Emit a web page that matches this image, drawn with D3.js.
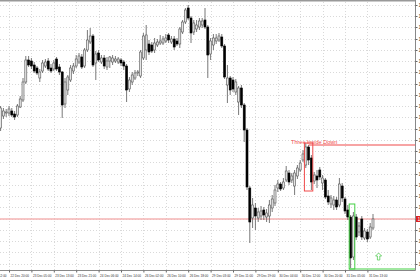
<!DOCTYPE html>
<html>
    <head>
        <meta charset="utf-8">
        <title>Three Inside Down</title>
        <style>
            html, body { margin: 0; padding: 0; background: #fff; overflow: hidden; }
            svg { display: block; font-family: "Liberation Sans", Arial, sans-serif; }
        </style>
        <script src="https://d3js.org/d3.v7.min.js"></script>
    </head>
    <body>
        <svg></svg>
        <script>
            // H1 bars, first bar index is -3 (bar 0 = 22 Dec 20:00)
            const firstBar = -3;

            const opens = [
                1.2172,1.2184,1.2187,1.2187,1.2189,1.2186,1.2185,1.2193,1.2200,1.2218,
                1.2240,1.2239,1.2235,1.2232,1.2222,1.2229,1.2234,1.2239,1.2232,1.2231,
                1.2241,1.2233,1.2228,1.2196,1.2210,1.2220,1.2229,1.2234,1.2238,1.2243,
                1.2234,1.2250,1.2258,1.2264,1.2237,1.2247,1.2238,1.2242,1.2233,1.2239,
                1.2238,1.2239,1.2238,1.2240,1.2238,1.2234,1.2211,1.2218,1.2222,1.2227,
                1.2224,1.2242,1.2250,1.2256,1.2255,1.2250,1.2255,1.2257,1.2257,1.2259,
                1.2265,1.2258,1.2261,1.2259,1.2256,1.2268,1.2278,1.2292,1.2282,1.2268,
                1.2271,1.2273,1.2275,1.2280,1.2273,1.2246,1.2255,1.2259,1.2260,1.2263,
                1.2254,1.2215,1.2222,1.2220,1.2208,1.2198,1.2212,1.2195,1.2170,1.2112,
                1.2082,1.2092,1.2082,1.2084,1.2090,1.2083,1.2084,1.2092,1.2097,1.2112,
                1.2116,1.2112,1.2120,1.2127,1.2120,1.2114,1.2124,1.2130,1.2140,1.2135,
                1.2153,1.2142,1.2119,1.2124,1.2130,1.2117,1.2120,1.2104,1.2096,1.2095,
                1.2100,1.2095,1.2114,1.2101,1.2090,1.2083,1.2043,1.2083,1.2068,1.2081,
                1.2062,1.2068,1.2063,1.2072
            ];
            const highs = [
                1.2194,1.2192,1.2191,1.2194,1.2192,1.2189,1.2196,1.2204,1.2222,1.2244,
                1.2244,1.2242,1.2238,1.2234,1.2231,1.2240,1.2241,1.2242,1.2236,1.2240,
                1.2243,1.2236,1.2229,1.2222,1.2225,1.2235,1.2237,1.2245,1.2247,1.2246,
                1.2252,1.2270,1.2272,1.2266,1.2249,1.2250,1.2245,1.2245,1.2243,1.2244,
                1.2245,1.2244,1.2243,1.2242,1.2240,1.2236,1.2223,1.2228,1.2230,1.2230,
                1.2250,1.2267,1.2275,1.2260,1.2258,1.2262,1.2261,1.2265,1.2264,1.2266,
                1.2267,1.2264,1.2264,1.2262,1.2273,1.2280,1.2292,1.2295,1.2284,1.2280,
                1.2280,1.2282,1.2282,1.2292,1.2275,1.2262,1.2266,1.2266,1.2267,1.2266,
                1.2256,1.2235,1.2224,1.2223,1.2221,1.2214,1.2215,1.2197,1.2172,1.2114,
                1.2102,1.2097,1.2092,1.2094,1.2093,1.2091,1.2100,1.2105,1.2115,1.2120,
                1.2118,1.2122,1.2134,1.2130,1.2127,1.2130,1.2135,1.2140,1.2150,1.2157,
                1.2155,1.2145,1.2128,1.2130,1.2133,1.2125,1.2122,1.2110,1.2105,1.2104,
                1.2103,1.2122,1.2117,1.2103,1.2095,1.2085,1.2088,1.2086,1.2078,1.2084,
                1.2072,1.2071,1.2077,1.2086
            ];
            const lows = [
                1.2169,1.2181,1.2183,1.2184,1.2183,1.2180,1.2183,1.2192,1.2198,1.2216,
                1.2233,1.2231,1.2227,1.2225,1.2218,1.2227,1.2232,1.2229,1.2227,1.2229,
                1.2229,1.2225,1.2182,1.2192,1.2205,1.2218,1.2226,1.2232,1.2236,1.2231,
                1.2232,1.2248,1.2256,1.2233,1.2220,1.2238,1.2236,1.2231,1.2230,1.2232,
                1.2235,1.2237,1.2236,1.2234,1.2230,1.2198,1.2208,1.2215,1.2220,1.2224,
                1.2222,1.2240,1.2240,1.2245,1.2247,1.2247,1.2253,1.2255,1.2255,1.2257,
                1.2257,1.2256,1.2250,1.2254,1.2252,1.2266,1.2276,1.2280,1.2257,1.2265,
                1.2268,1.2270,1.2272,1.2271,1.2222,1.2240,1.2250,1.2256,1.2258,1.2252,
                1.2221,1.2197,1.2205,1.2208,1.2205,1.2185,1.2192,1.2158,1.2110,1.2057,
                1.2072,1.2070,1.2078,1.2080,1.2080,1.2078,1.2077,1.2088,1.2094,1.2108,
                1.2109,1.2110,1.2118,1.2115,1.2117,1.2105,1.2121,1.2128,1.2138,1.2132,
                1.2135,1.2110,1.2116,1.2112,1.2120,1.2110,1.2101,1.2095,1.2092,1.2090,
                1.2090,1.2093,1.2098,1.2086,1.2080,1.2032,1.2040,1.2060,1.2064,1.2060,
                1.2060,1.2058,1.2061,1.2070
            ];
            const closes = [
                1.2192,1.2189,1.2188,1.2191,1.2185,1.2183,1.2194,1.2201,1.2218,1.2240,
                1.2235,1.2234,1.2229,1.2227,1.2228,1.2237,1.2238,1.2231,1.2229,1.2237,
                1.2231,1.2228,1.2195,1.2218,1.2223,1.2232,1.2234,1.2241,1.2244,1.2233,
                1.2250,1.2260,1.2264,1.2235,1.2246,1.2240,1.2242,1.2234,1.2239,1.2243,
                1.2242,1.2241,1.2241,1.2237,1.2234,1.2210,1.2220,1.2225,1.2227,1.2228,
                1.2248,1.2264,1.2265,1.2248,1.2249,1.2257,1.2258,1.2259,1.2261,1.2262,
                1.2260,1.2261,1.2253,1.2256,1.2271,1.2278,1.2290,1.2282,1.2267,1.2277,
                1.2275,1.2279,1.2279,1.2273,1.2245,1.2259,1.2262,1.2262,1.2264,1.2254,
                1.2223,1.2222,1.2210,1.2211,1.2218,1.2212,1.2195,1.2170,1.2113,1.2078,
                1.2095,1.2084,1.2088,1.2089,1.2085,1.2087,1.2095,1.2101,1.2110,1.2116,
                1.2111,1.2118,1.2129,1.2118,1.2124,1.2127,1.2132,1.2137,1.2146,1.2153,
                1.2140,1.2118,1.2125,1.2120,1.2123,1.2122,1.2103,1.2098,1.2102,1.2100,
                1.2093,1.2116,1.2102,1.2089,1.2083,1.2042,1.2084,1.2063,1.2074,1.2063,
                1.2069,1.2061,1.2073,1.2081
            ];

            // one label every 8 bars, starting at bar -8
            const labelStep = 8;
            const timeLabels = [
                "22 Dec 12:00", "22 Dec 20:00", "23 Dec 05:00", "23 Dec 13:00", "23 Dec 21:00",
                "24 Dec 06:00", "24 Dec 14:00", "26 Dec 02:00", "26 Dec 10:00", "26 Dec 18:00",
                "29 Dec 03:00", "29 Dec 11:00", "29 Dec 19:00", "30 Dec 04:00", "30 Dec 12:00",
                "30 Dec 20:00", "31 Dec 05:00", "31 Dec 13:00"
            ];

            const priceTicks = [
                1.2295, 1.2284, 1.2273, 1.2261, 1.2250, 1.2239, 1.2228, 1.2216,
                1.2205, 1.2194, 1.2183, 1.2171, 1.2160, 1.2149, 1.2138, 1.2126,
                1.2115, 1.2104, 1.2093, 1.2081, 1.2070, 1.2059, 1.2048, 1.2036
            ];

            const patterns = [
                { name: "Three Inside Down", from: 106, to: 108, hi: 1.2157, lo: 1.2109, level: 1.2155, color: "#f04a4a" },
                { name: "", from: 122, to: 123, hi: 1.2096, lo: 1.2031, level: 1.2031, color: "#45d045" }
            ];
            const arrowBar = 132;
            const arrowPrice = 1.2047;

            const width = 420;
            const height = 280;
            const plotRight = 415.5;
            const plotTop = 2;
            const plotBottom = 270.5;

            const bars = opens.map((o, k) => ({
                i: k + firstBar, o: o, h: highs[k], l: lows[k], c: closes[k]
            }));

            const x = d3.scaleLinear().domain([0, 128]).range([9, 367.4]);
            const y = d3.scaleLinear().domain([1.2029, 1.2298]).range([271, 2]);

            const svg = d3.select('svg')
                .attr('width', width)
                .attr('height', height);

            const labelBars = timeLabels.map((d, k) => (k - 1) * labelStep);

            // grid
            const grid = svg.append('g')
                .attr('stroke', '#d9d9d9')
                .attr('stroke-width', 1)
                .attr('stroke-dasharray', '1,2');
            grid.selectAll('.hg')
                .data(priceTicks)
                .enter().append('line')
                .attr('x1', 0).attr('x2', plotRight)
                .attr('y1', d => Math.round(y(d)) + 0.5)
                .attr('y2', d => Math.round(y(d)) + 0.5);
            grid.selectAll('.vg')
                .data(labelBars.filter(d => x(d) > 0))
                .enter().append('line')
                .attr('y1', plotTop).attr('y2', plotBottom)
                .attr('x1', d => Math.round(x(d)) + 0.5)
                .attr('x2', d => Math.round(x(d)) + 0.5);

            // bid line at last close
            const last = closes[closes.length - 1];
            svg.append('line')
                .attr('x1', 0).attr('x2', plotRight)
                .attr('y1', y(last)).attr('y2', y(last))
                .attr('stroke', '#f5b3b3')
                .attr('stroke-width', 1.6);

            // candles
            const candle = svg.append('g').selectAll('g')
                .data(bars)
                .enter().append('g');
            candle.append('line')
                .attr('x1', d => x(d.i)).attr('x2', d => x(d.i))
                .attr('y1', d => y(d.h)).attr('y2', d => y(d.l))
                .attr('stroke', '#6a6a6a')
                .attr('stroke-width', 0.9);
            candle.append('rect')
                .attr('x', d => x(d.i) - 1)
                .attr('width', 2)
                .attr('y', d => y(Math.max(d.o, d.c)))
                .attr('height', d => Math.max(1, Math.abs(y(d.o) - y(d.c))))
                .attr('fill', d => d.c >= d.o ? '#e6e6e6' : '#000')
                .attr('stroke', d => d.c >= d.o ? '#555' : '#000')
                .attr('stroke-width', 0.6);

            // pattern boxes, levels and name
            const pat = svg.append('g').selectAll('g')
                .data(patterns)
                .enter().append('g');
            pat.append('rect')
                .attr('x', d => x(d.from) - 1.4)
                .attr('width', d => x(d.to) - x(d.from) + 2.8)
                .attr('y', d => y(d.hi))
                .attr('height', d => y(d.lo) - y(d.hi))
                .attr('fill', 'none')
                .attr('stroke', d => d.color)
                .attr('stroke-width', 1);
            pat.append('line')
                .attr('x1', d => d.name ? x(d.from + 1) : x(d.from) - 1.4)
                .attr('x2', plotRight)
                .attr('y1', d => y(d.level)).attr('y2', d => y(d.level))
                .attr('stroke', d => d.color)
                .attr('stroke-width', 1.2);
            pat.append('text')
                .attr('x', d => x(d.from + 3))
                .attr('y', d => y(d.level) - 1.5)
                .attr('text-anchor', 'middle')
                .attr('font-size', 5.5)
                .attr('fill', d => d.color)
                .text(d => d.name);

            // hollow up arrow
            const ax = x(arrowBar);
            const ay = y(arrowPrice);
            svg.append('path')
                .attr('d', d3.line()([[ax, ay], [ax + 3, ay + 3], [ax + 1.2, ay + 3], [ax + 1.2, ay + 7],
                    [ax - 1.2, ay + 7], [ax - 1.2, ay + 3], [ax - 3, ay + 3]]) + 'Z')
                .attr('fill', 'none')
                .attr('stroke', '#55cc55')
                .attr('stroke-width', 0.8);

            // frame
            svg.append('line')
                .attr('x1', 0).attr('x2', plotRight)
                .attr('y1', 0.8).attr('y2', 0.8)
                .attr('stroke', '#999').attr('stroke-width', 1.5);
            svg.append('line')
                .attr('x1', 0).attr('x2', plotRight)
                .attr('y1', plotBottom).attr('y2', plotBottom)
                .attr('stroke', '#888').attr('stroke-width', 1);

            // price axis (labels run off the right edge, as in the terminal screenshot)
            const yAxis = svg.append('g')
                .attr('transform', 'translate(' + plotRight + ',0)')
                .call(d3.axisRight(y)
                    .tickValues(priceTicks)
                    .tickSize(2)
                    .tickSizeOuter(0)
                    .tickPadding(1)
                    .tickFormat(d3.format('.4f')));
            yAxis.select('.domain').attr('d', 'M0,0V' + plotBottom).attr('stroke', '#888');
            yAxis.selectAll('.tick line').attr('stroke', '#666');
            yAxis.selectAll('text').attr('font-size', 5).attr('fill', '#333');

            // bid price box on axis
            svg.append('rect')
                .attr('x', plotRight + 0.5).attr('width', 6)
                .attr('y', y(last) - 3).attr('height', 6)
                .attr('fill', '#dd2222');
            svg.append('text')
                .attr('x', plotRight + 2).attr('y', y(last) + 1.8)
                .attr('font-size', 5).attr('fill', '#fff')
                .text(d3.format('.4f')(last));

            // time axis
            const xAxis = svg.append('g')
                .attr('transform', 'translate(0,' + plotBottom + ')')
                .call(d3.axisBottom(x)
                    .tickValues(labelBars)
                    .tickSize(2)
                    .tickSizeOuter(0)
                    .tickPadding(1.5)
                    .tickFormat((d, k) => timeLabels[k]));
            xAxis.select('.domain').remove();
            xAxis.selectAll('.tick line').attr('stroke', '#666');
            xAxis.selectAll('text')
                .attr('text-anchor', 'start')
                .attr('dx', 1)
                .attr('font-size', 3.8)
                .attr('textLength', 18.5)
                .attr('lengthAdjust', 'spacingAndGlyphs')
                .attr('fill', '#333');
        </script>
    </body>
</html>
